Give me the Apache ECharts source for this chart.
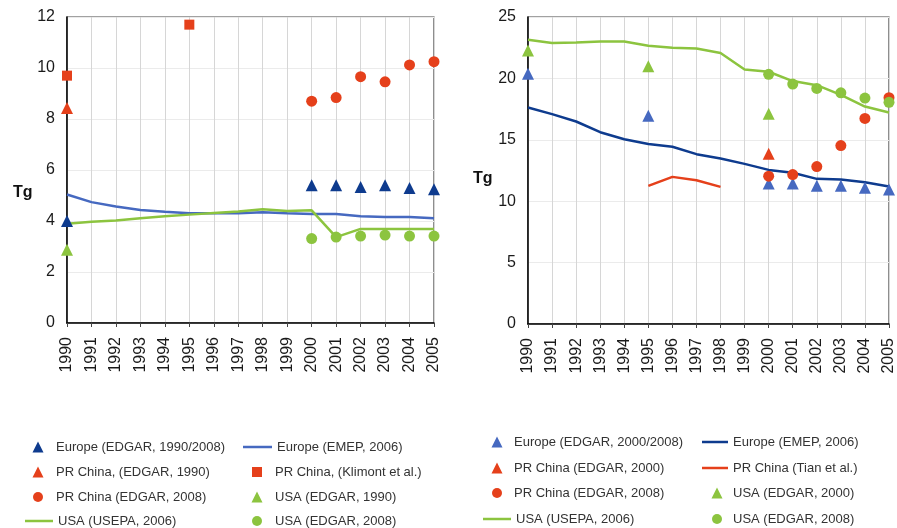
<!DOCTYPE html>
<html>
<head>
<meta charset="utf-8">
<script src="https://cdn.jsdelivr.net/npm/echarts@6/dist/echarts.min.js"></script>
<style>
  html, body { margin: 0; padding: 0; background: #fff; }
  #wrap { width: 897px; height: 528px; position: relative; }
  #left { position: absolute; left: 0; top: 0; width: 448px; height: 528px; }
  #right { position: absolute; left: 448px; top: 0; width: 449px; height: 528px; }
</style>
</head>
<body>
<div id="wrap"><div id="left"></div><div id="right"></div></div>
<script>
// Years shared by both panels
const years = ['1990','1991','1992','1993','1994','1995','1996','1997','1998','1999','2000','2001','2002','2003','2004','2005'];

// ---- Left panel (Tg) ----
const leftEuropeEdgar   = [4.0, null, null, null, null, null, null, null, null, null, 5.4, 5.4, 5.33, 5.4, 5.29, 5.25];
const leftEuropeEmep    = [5.04, 4.74, 4.57, 4.43, 4.36, 4.3, 4.3, 4.3, 4.34, 4.3, 4.27, 4.27, 4.19, 4.16, 4.16, 4.11];
const leftChinaEdgar90  = [8.43, null, null, null, null, null, null, null, null, null, null, null, null, null, null, null];
const leftChinaKlimont  = [9.7, null, null, null, null, 11.7, null, null, null, null, null, null, null, null, null, null];
const leftChinaEdgar08  = [null, null, null, null, null, null, null, null, null, null, 8.7, 8.84, 9.66, 9.46, 10.12, 10.25];
const leftUsaEdgar90    = [2.87, null, null, null, null, null, null, null, null, null, null, null, null, null, null, null];
const leftUsaUsepa      = [3.89, 3.97, 4.02, 4.11, 4.19, 4.25, 4.31, 4.37, 4.46, 4.39, 4.42, 3.37, 3.69, 3.69, 3.69, 3.69];
const leftUsaEdgar08    = [null, null, null, null, null, null, null, null, null, null, 3.31, 3.37, 3.41, 3.45, 3.41, 3.41];
const leftTicks = { min: 0, max: 12, interval: 2 };

// ---- Right panel (Tg) ----
const rightEuropeEdgar  = [20.38, null, null, null, null, 16.96, null, null, null, null, 11.44, 11.44, 11.25, 11.25, 11.09, 10.95];
const rightEuropeEmep   = [17.63, 17.09, 16.49, 15.62, 15.05, 14.65, 14.43, 13.83, 13.47, 13.04, 12.55, 12.31, 11.82, 11.76, 11.55, 11.19];
const rightChinaEdgar00 = [null, null, null, null, null, null, null, null, null, null, 13.86, null, null, null, null, null];
const rightChinaTian    = [null, null, null, null, null, 11.25, 11.98, 11.71, 11.17, null, null, null, null, null, null, null];
const rightChinaEdgar08 = [null, null, null, null, null, null, null, null, null, null, 12.04, 12.17, 12.82, 14.53, 16.74, 18.43];
const rightUsaEdgar00   = [22.28, null, null, null, null, 20.98, null, null, null, null, 17.12, null, null, null, null, null];
const rightUsaUsepa     = [23.15, 22.88, 22.93, 23.01, 23.01, 22.66, 22.5, 22.44, 22.07, 20.73, 20.54, 19.78, 19.45, 18.66, 17.71, 17.22];
const rightUsaEdgar08   = [null, null, null, null, null, null, null, null, null, null, 20.33, 19.54, 19.18, 18.83, 18.4, 18.05];
const rightTicks = { min: 0, max: 25, interval: 5 };

const RED = '#E5401B';
const GREEN = '#8CC43F';
const NAVY = '#0E3B8E';
const BLUE = '#4669C0';
const FONT = 'Liberation Sans, Arial, sans-serif';

function toData(arr) { return arr.map(v => (v === null ? '-' : v)); }

function lineSeries(name, data, color) {
  return {
    name, type: 'line', data: toData(data), symbol: 'none', connectNulls: false,
    lineStyle: { color, width: 2.5 }, itemStyle: { color }, z: 2, animation: false
  };
}
function pointSeries(name, data, color, symbol, size) {
  return {
    name, type: 'scatter', data: toData(data), symbol, symbolSize: size,
    itemStyle: { color, opacity: 1 }, z: 3, animation: false
  };
}

// One legend block per entry so that the two columns line up.
// Marker entries: centred on cx, label starting at tx.
// Line entries: stroke from x0 to x1, label starting at tx.
function legends(items) {
  return items.map(it => {
    let left, w, h, icon;
    if (it.icon === 'line') {
      icon = 'rect'; left = it.x0; w = it.x1 - it.x0; h = 2.5;
    } else {
      icon = it.icon; w = it.s; h = it.s; left = it.cx - it.s / 2;
    }
    const pad = Math.max(0, it.tx - (left + w + 5));
    return {
      data: [{ name: it.name, icon }], left, top: it.y - 8, orient: 'horizontal',
      itemWidth: w, itemHeight: h, itemGap: 0, selectedMode: false, padding: 0,
      textStyle: { fontFamily: FONT, fontSize: 13, color: '#333', padding: [0, 0, 0, pad], lineHeight: 16 }
    };
  });
}

function panel(el, grid, ticks, series, legendItems, tgPos) {
  const chart = echarts.init(el, null, { renderer: 'canvas' });
  chart.setOption({
    animation: false,
    backgroundColor: '#fff',
    grid: Object.assign({ show: true, borderColor: '#444', borderWidth: 1.2, backgroundColor: 'transparent', containLabel: false }, grid),
    xAxis: {
      type: 'category', data: years, boundaryGap: false,
      axisLine: { lineStyle: { color: '#000', width: 1.5 } },
      axisTick: { show: true, length: 4, lineStyle: { color: '#444' } },
      axisLabel: { rotate: 90, fontFamily: FONT, fontSize: 16, color: '#1a1a1a', margin: 14, interval: 0 },
      splitLine: { show: true, lineStyle: { color: '#d6d6d6', width: 1 } }
    },
    yAxis: {
      type: 'value', min: ticks.min, max: ticks.max, interval: ticks.interval,
      axisLine: { show: true, lineStyle: { color: '#000', width: 1.5 } },
      axisTick: { show: false },
      axisLabel: { fontFamily: FONT, fontSize: 16, color: '#1a1a1a', margin: 12 },
      splitLine: { show: true, lineStyle: { color: '#ebebeb', width: 1 } }
    },
    legend: legends(legendItems),
    graphic: [{
      type: 'text', left: tgPos.x, top: tgPos.y,
      style: { text: 'Tg', font: 'bold 16px ' + FONT, fill: '#111' }
    }],
    series
  });
  return chart;
}

panel(document.getElementById('left'),
  { left: 67, right: 14, top: 17, bottom: 205 },
  leftTicks,
  [
    lineSeries('Europe (EMEP, 2006)', leftEuropeEmep, BLUE),
    lineSeries('USA (USEPA, 2006)', leftUsaUsepa, GREEN),
    pointSeries('Europe (EDGAR, 1990/2008)', leftEuropeEdgar, NAVY, 'triangle', 12),
    pointSeries('PR China, (EDGAR, 1990)', leftChinaEdgar90, RED, 'triangle', 12),
    pointSeries('PR China, (Klimont et al.)', leftChinaKlimont, RED, 'rect', 10),
    pointSeries('PR China (EDGAR, 2008)', leftChinaEdgar08, RED, 'circle', 11),
    pointSeries('USA (EDGAR, 1990)', leftUsaEdgar90, GREEN, 'triangle', 12),
    pointSeries('USA (EDGAR, 2008)', leftUsaEdgar08, GREEN, 'circle', 11)
  ],
  [
    { name: 'Europe (EDGAR, 1990/2008)', icon: 'triangle', s: 11, cx: 38, tx: 56, y: 447 },
    { name: 'Europe (EMEP, 2006)', icon: 'line', x0: 243, x1: 272, tx: 275, y: 447 },
    { name: 'PR China, (EDGAR, 1990)', icon: 'triangle', s: 11, cx: 38, tx: 56, y: 472 },
    { name: 'PR China, (Klimont et al.)', icon: 'rect', s: 10, cx: 257, tx: 275, y: 472 },
    { name: 'PR China (EDGAR, 2008)', icon: 'circle', s: 10, cx: 38, tx: 56, y: 497 },
    { name: 'USA (EDGAR, 1990)', icon: 'triangle', s: 11, cx: 257, tx: 275, y: 497 },
    { name: 'USA (USEPA, 2006)', icon: 'line', x0: 25, x1: 53, tx: 56, y: 521 },
    { name: 'USA (EDGAR, 2008)', icon: 'circle', s: 10, cx: 257, tx: 275, y: 521 }
  ],
  { x: 13, y: 185 }
);

panel(document.getElementById('right'),
  { left: 80, right: 5, top: 17, bottom: 204 },
  rightTicks,
  [
    lineSeries('Europe (EMEP, 2006)', rightEuropeEmep, NAVY),
    lineSeries('PR China (Tian et al.)', rightChinaTian, RED),
    lineSeries('USA (USEPA, 2006)', rightUsaUsepa, GREEN),
    pointSeries('Europe (EDGAR, 2000/2008)', rightEuropeEdgar, BLUE, 'triangle', 12),
    pointSeries('PR China (EDGAR, 2000)', rightChinaEdgar00, RED, 'triangle', 12),
    pointSeries('PR China (EDGAR, 2008)', rightChinaEdgar08, RED, 'circle', 11),
    pointSeries('USA (EDGAR, 2000)', rightUsaEdgar00, GREEN, 'triangle', 12),
    pointSeries('USA (EDGAR, 2008)', rightUsaEdgar08, GREEN, 'circle', 11)
  ],
  [
    { name: 'Europe (EDGAR, 2000/2008)', icon: 'triangle', s: 11, cx: 49, tx: 66, y: 442 },
    { name: 'Europe (EMEP, 2006)', icon: 'line', x0: 254, x1: 280, tx: 285, y: 442 },
    { name: 'PR China (EDGAR, 2000)', icon: 'triangle', s: 11, cx: 49, tx: 66, y: 468 },
    { name: 'PR China (Tian et al.)', icon: 'line', x0: 254, x1: 280, tx: 285, y: 468 },
    { name: 'PR China (EDGAR, 2008)', icon: 'circle', s: 10, cx: 49, tx: 66, y: 493 },
    { name: 'USA (EDGAR, 2000)', icon: 'triangle', s: 11, cx: 269, tx: 285, y: 493 },
    { name: 'USA (USEPA, 2006)', icon: 'line', x0: 35, x1: 63, tx: 66, y: 519 },
    { name: 'USA (EDGAR, 2008)', icon: 'circle', s: 10, cx: 269, tx: 285, y: 519 }
  ],
  { x: 25, y: 171 }
);
</script>
</body>
</html>
